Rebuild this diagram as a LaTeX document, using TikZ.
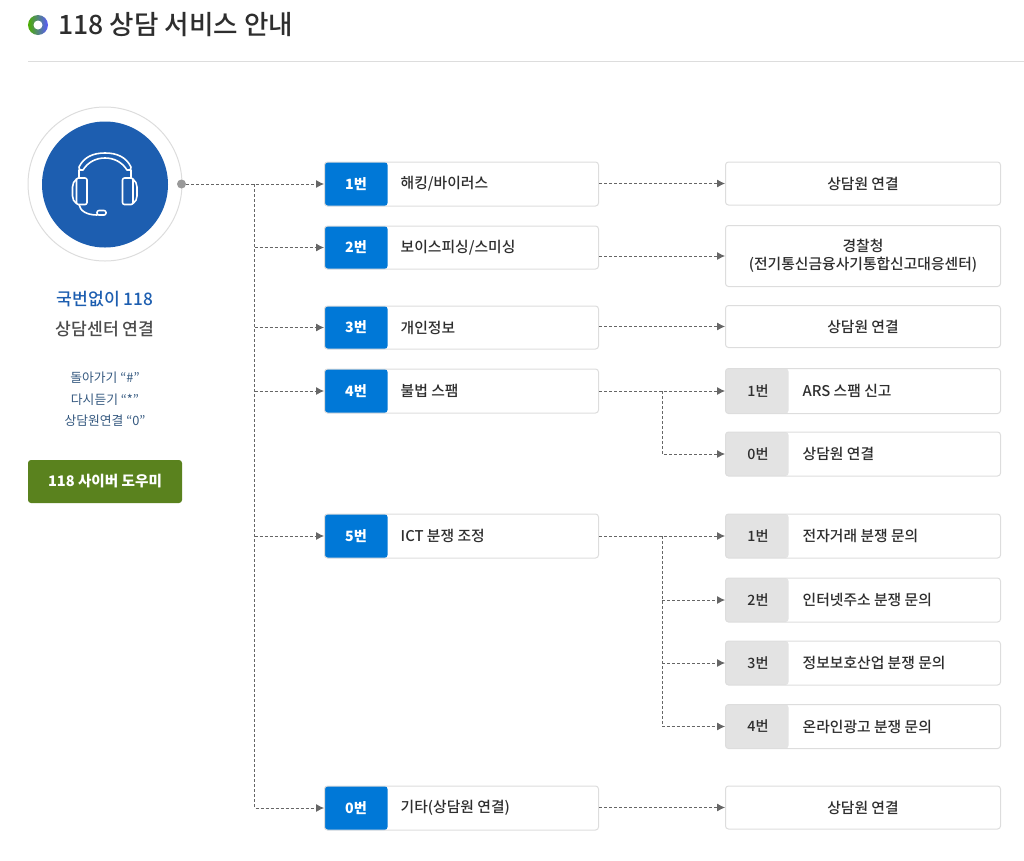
\documentclass[tikz,border=0pt]{standalone}
\usepackage{fontspec}
\setmainfont{Noto Sans CJK KR}
\newfontfamily\krmed{Noto Sans CJK KR Medium}
\usetikzlibrary{arrows.meta}
\definecolor{numblue}{HTML}{0078D7}
\definecolor{headblue}{HTML}{1D5EB0}
\definecolor{numgray}{HTML}{E3E3E3}
\definecolor{edgegray}{HTML}{DDDDDD}
\definecolor{linkgray}{HTML}{666666}
\definecolor{textdark}{HTML}{2E2E2E}
\definecolor{helpblue}{HTML}{34587F}
\definecolor{btngreen}{HTML}{5A821E}

\begin{document}
\begin{tikzpicture}[
	x=1pt, y=-1pt,
	line cap=butt,
	every node/.style={text=textdark, inner sep=0pt},
	menubox/.style={draw=edgegray, line width=1pt, fill=white, rounded corners=3pt, minimum width=274pt, minimum height=#1,
		path picture={\fill[numblue] (path picture bounding box.north west) rectangle ([xshift=63pt]path picture bounding box.south west);}},
	subbox/.style={draw=edgegray, line width=1pt, fill=white, rounded corners=3pt, minimum width=275pt, minimum height=#1,
		path picture={\fill[numgray] (path picture bounding box.north west) rectangle ([xshift=63pt]path picture bounding box.south west);}},
	endbox/.style={draw=edgegray, line width=1pt, fill=white, rounded corners=3pt, minimum width=275pt, minimum height=#1, font=\krmed\fontsize{14.8}{18.5}\selectfont, align=center},
	numwhite/.style={font=\bfseries\fontsize{14.2}{18}\selectfont, text=white},
	numdark/.style={font=\krmed\fontsize{14.2}{18}\selectfont},
	boxtext/.style={font=\krmed\fontsize{14.8}{18}\selectfont, anchor=west},
	helptext/.style={font=\fontsize{12.8}{16}\selectfont, text=helpblue},
	link/.style={draw=linkgray, line width=0.8pt, dash pattern=on 3pt off 2pt, -{Latex[length=8pt,width=8pt,fill=linkgray]}},
	phones/.style={draw=white, line width=1.6pt, line join=round, line cap=round}
	]
	\useasboundingbox (0,0) rectangle (1024,860);

	% Heading
	\shade[left color=green!55!black!70!yellow, right color=blue!65!white] (38,25) circle (10);
	\fill[white] (38,25) circle (4.5);
	\node[anchor=west, font=\krmed\fontsize{26.6}{32}\selectfont] (heading) at (58,25) {118 상담 서비스 안내};
	\draw[edgegray, line width=1pt] (28,61) -- (1024,61);

	% Headset badge
	\node[circle, draw=edgegray, line width=1pt, fill=white, minimum size=154pt] (ring) at (105,184) {};
	\node[circle, fill=headblue, minimum size=126pt] (disc) at (105,184.5) {};
	\node[circle, fill=black!40, minimum size=9pt] (dot) at (181.5,184) {};
	\draw[phones] (79,167) .. controls (84,157) and (93,153) .. (105,153) .. controls (117,153) and (126,157) .. (131,167)
		.. controls (131,170) and (129,171) .. (127,170) .. controls (122,162) and (114,158) .. (105,158)
		.. controls (96,158) and (88,162) .. (83,170) .. controls (81,171) and (79,170) .. (79,167) -- cycle;
	\draw[phones] (79,170) -- (79,178);
	\draw[phones] (131,170) -- (131,178);
	\draw[phones, rounded corners=2pt] (76.5,178) rectangle (87,204.5);
	\draw[phones, rounded corners=2pt] (122.5,178) rectangle (133,204.5);
	\draw[phones] (76.5,179) .. controls (74,181) and (72.5,184) .. (72.5,187) -- (72.5,196) .. controls (72.5,199) and (74,202) .. (76.5,203.5);
	\draw[phones] (133,179) .. controls (135.5,181) and (137,184) .. (137,187) -- (137,196) .. controls (137,199) and (135.5,202) .. (133,203.5);
	\draw[phones] (79,204.5) .. controls (80,211) and (87,215) .. (97,215);
	\draw[phones, rounded corners=2pt] (97,210.5) rectangle (106,215);

	% Left column
	\node[font=\krmed\fontsize{17.2}{20}\selectfont, text=headblue] (nocode) at (105,299) {국번없이 118};
	\node[font=\krmed\fontsize{17.2}{20}\selectfont, text=black!70] (center) at (105,329) {상담센터 연결};
	\node[helptext] (back) at (105,378) {돌아가기 “\#”};
	\node[helptext] (again) at (105,399.5) {다시듣기 “*”};
	\node[helptext] (agent) at (105,421) {상담원연결 “0”};
	\node[fill=btngreen, rounded corners=3pt, minimum width=154pt, minimum height=43pt, text=white, font=\bfseries\fontsize{14.6}{18}\selectfont] (cyber) at (105,481.5) {118 사이버 도우미};

	% Menu boxes
	\node[menubox=44pt] (m1) at (461.5,184) {};
	\node[menubox=43pt] (m2) at (461.5,247.5) {};
	\node[menubox=43pt] (m3) at (461.5,327.5) {};
	\node[menubox=44pt] (m4) at (461.5,391) {};
	\node[menubox=44pt] (m5) at (461.5,536) {};
	\node[menubox=44pt] (m0) at (461.5,808) {};

	\node[numwhite] (n1) at ([xshift=32pt]m1.west) {1번};
	\node[numwhite] (n2) at ([xshift=32pt]m2.west) {2번};
	\node[numwhite] (n3) at ([xshift=32pt]m3.west) {3번};
	\node[numwhite] (n4) at ([xshift=32pt]m4.west) {4번};
	\node[numwhite] (n5) at ([xshift=32pt]m5.west) {5번};
	\node[numwhite] (n0) at ([xshift=32pt]m0.west) {0번};

	\node[boxtext] (t1) at ([xshift=76.5pt]m1.west) {해킹/바이러스};
	\node[boxtext] (t2) at ([xshift=76.5pt]m2.west) {보이스피싱/스미싱};
	\node[boxtext] (t3) at ([xshift=76.5pt]m3.west) {개인정보};
	\node[boxtext] (t4) at ([xshift=76.5pt]m4.west) {불법 스팸};
	\node[boxtext] (t5) at ([xshift=76.5pt]m5.west) {ICT 분쟁 조정};
	\node[boxtext] (t0) at ([xshift=76.5pt]m0.west) {기타(상담원 연결)};

	% Result boxes
	\node[endbox=43pt] (e1) at (863,183.5) {상담원 연결};
	\node[endbox=61pt] (e2) at (863,256) {경찰청\\(전기통신금융사기통합신고대응센터)};
	\node[endbox=42pt] (e3) at (863,326.5) {상담원 연결};
	\node[endbox=43pt] (e0) at (863,807.5) {상담원 연결};

	% Sub menu boxes
	\node[subbox=45pt] (s41) at (863,391) {};
	\node[subbox=44pt] (s40) at (863,454) {};
	\node[subbox=44pt] (s51) at (863,536) {};
	\node[subbox=44pt] (s52) at (863,600) {};
	\node[subbox=44pt] (s53) at (863,663) {};
	\node[subbox=44pt] (s54) at (863,726.5) {};

	\node[numdark] (k41) at ([xshift=33pt]s41.west) {1번};
	\node[numdark] (k40) at ([xshift=33pt]s40.west) {0번};
	\node[numdark] (k51) at ([xshift=33pt]s51.west) {1번};
	\node[numdark] (k52) at ([xshift=33pt]s52.west) {2번};
	\node[numdark] (k53) at ([xshift=33pt]s53.west) {3번};
	\node[numdark] (k54) at ([xshift=33pt]s54.west) {4번};

	\node[boxtext] (u41) at ([xshift=77.5pt]s41.west) {ARS 스팸 신고};
	\node[boxtext] (u40) at ([xshift=77.5pt]s40.west) {상담원 연결};
	\node[boxtext] (u51) at ([xshift=77.5pt]s51.west) {전자거래 분쟁 문의};
	\node[boxtext] (u52) at ([xshift=77.5pt]s52.west) {인터넷주소 분쟁 문의};
	\node[boxtext] (u53) at ([xshift=77.5pt]s53.west) {정보보호산업 분쟁 문의};
	\node[boxtext] (u54) at ([xshift=77.5pt]s54.west) {온라인광고 분쟁 문의};

	% Trunk from the badge
	\coordinate (trunk) at (254.5,184);
	\draw[link] (dot) -- (m1);
	\draw[link] (trunk) |- (m0.west);
	\draw[link] (trunk |- m2.west) -- (m2.west);
	\draw[link] (trunk |- m3.west) -- (m3.west);
	\draw[link] (trunk |- m4.west) -- (m4.west);
	\draw[link] (trunk |- m5.west) -- (m5.west);

	% Menu to result
	\draw[link] (m1.east |- e1.west) -- (e1.west);
	\draw[link] (m2.east |- e2.west) -- (e2.west);
	\draw[link] (m3.east |- e3.west) -- (e3.west);
	\draw[link] (m0.east |- e0.west) -- (e0.west);

	% Menu to sub menu
	\coordinate (fork4) at (662,391);
	\coordinate (fork5) at (662,536);
	\draw[link] (m4.east) -- (s41.west);
	\draw[link] (fork4) |- (s40.west);
	\draw[link] (m5.east) -- (s51.west);
	\draw[link] (fork5) |- (s54.west);
	\draw[link] (fork5 |- s52.west) -- (s52.west);
	\draw[link] (fork5 |- s53.west) -- (s53.west);
\end{tikzpicture}
\end{document}
